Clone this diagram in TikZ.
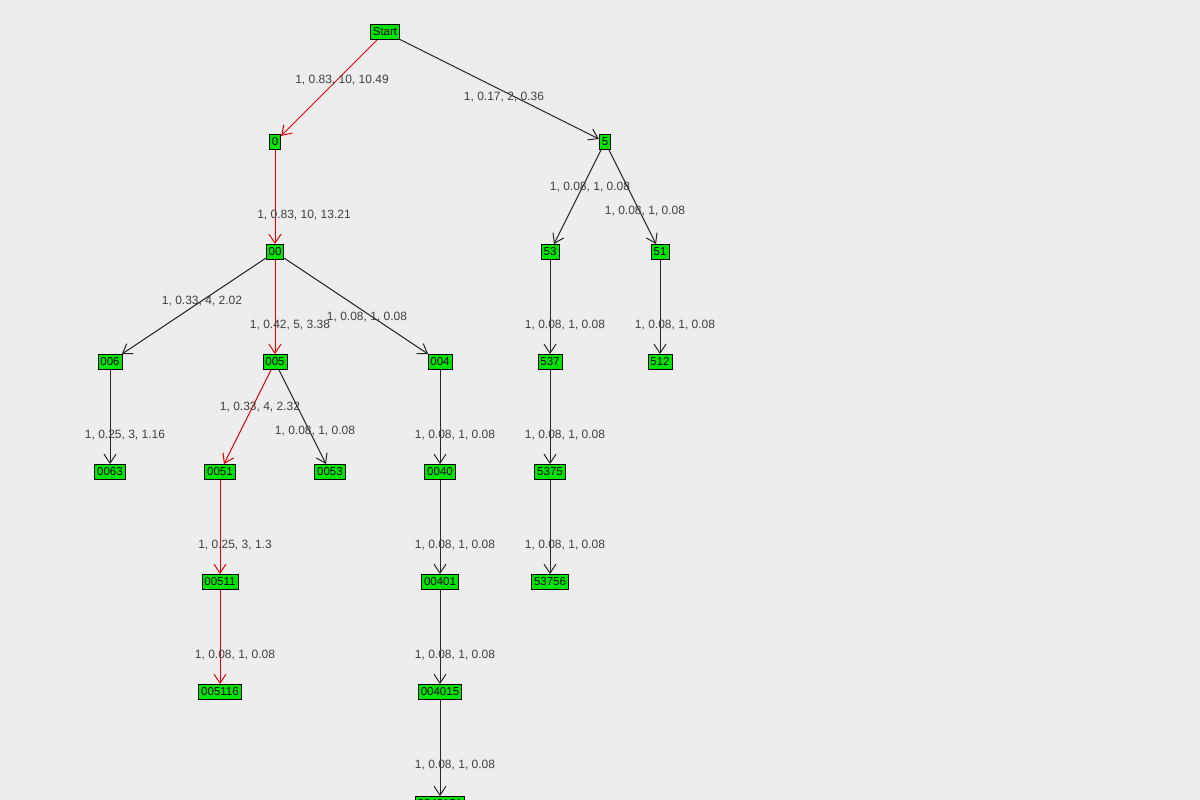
\documentclass[tikz,border=0pt]{standalone}
\usepackage{fontspec}
\setmainfont{Liberation Sans}
\usetikzlibrary{arrows.meta}
\tikzset{
  state/.style={draw, line width=0.8pt, fill=green!90!black, inner xsep=2.5pt, inner ysep=1pt, minimum height=15pt, font=\fontsize{11.5}{12}\selectfont},
  lbl/.style={font=\fontsize{12}{13}\selectfont, text=black!75},
  edge/.style={draw=black!85, line width=1pt, -{Straight Barb[length=9pt,width=12pt]}},
  best/.style={edge, draw=red!90!black}
}
\begin{document}
\begin{tikzpicture}[x=1pt,y=-1pt]
		\fill [black!7] (0,0) rectangle (1200,800);
		\useasboundingbox (0,0) rectangle (1200,800);
		\clip (0,0) rectangle (1200,800);
		% states
		\node [state] (Start) at (385,32) {Start};
		\node [state] (n0) at (275,142) {0};
		\node [state] (n5) at (605,142) {5};
		\node [state] (n00) at (275,252) {00};
		\node [state] (n53) at (550,252) {53};
		\node [state] (n51) at (660,252) {51};
		\node [state] (n006) at (110,362) {006};
		\node [state] (n005) at (275,362) {005};
		\node [state] (n004) at (440,362) {004};
		\node [state] (n537) at (550,362) {537};
		\node [state] (n512) at (660,362) {512};
		\node [state] (n0063) at (110,472) {0063};
		\node [state] (n0051) at (220,472) {0051};
		\node [state] (n0053) at (330,472) {0053};
		\node [state] (n0040) at (440,472) {0040};
		\node [state] (n5375) at (550,472) {5375};
		\node [state] (n00511) at (220,582) {00511};
		\node [state] (n00401) at (440,582) {00401};
		\node [state] (n53756) at (550,582) {53756};
		\node [state] (n005116) at (220,692) {005116};
		\node [state] (n004015) at (440,692) {004015};
		\node [state] (n0040151) at (440,804) {0040151};
		% transitions
		\foreach \a/\b/\s/\x/\y/\t in {
			Start/n0/best/342/80/{1, 0.83, 10, 10.49},
			Start/n5/edge/504/97/{1, 0.17, 2, 0.36},
			n0/n00/best/304/215/{1, 0.83, 10, 13.21},
			n5/n53/edge/590/187/{1, 0.08, 1, 0.08},
			n5/n51/edge/645/211/{1, 0.08, 1, 0.08},
			n00/n006/edge/202/301/{1, 0.33, 4, 2.02},
			n00/n005/best/290/325/{1, 0.42, 5, 3.38},
			n00/n004/edge/367/317/{1, 0.08, 1, 0.08},
			n53/n537/edge/565/325/{1, 0.08, 1, 0.08},
			n51/n512/edge/675/325/{1, 0.08, 1, 0.08},
			n006/n0063/edge/125/435/{1, 0.25, 3, 1.16},
			n005/n0051/best/260/407/{1, 0.33, 4, 2.32},
			n005/n0053/edge/315/431/{1, 0.08, 1, 0.08},
			n004/n0040/edge/455/435/{1, 0.08, 1, 0.08},
			n537/n5375/edge/565/435/{1, 0.08, 1, 0.08},
			n0051/n00511/best/235/545/{1, 0.25, 3, 1.3},
			n0040/n00401/edge/455/545/{1, 0.08, 1, 0.08},
			n5375/n53756/edge/565/545/{1, 0.08, 1, 0.08},
			n00511/n005116/best/235/655/{1, 0.08, 1, 0.08},
			n00401/n004015/edge/455/655/{1, 0.08, 1, 0.08},
			n004015/n0040151/edge/455/765/{1, 0.08, 1, 0.08}}
		{
			\draw [\s] (\a) -- (\b);
			\node [lbl] (l-\b) at (\x,\y) {\t};
		}
	\end{tikzpicture}
\end{document}
